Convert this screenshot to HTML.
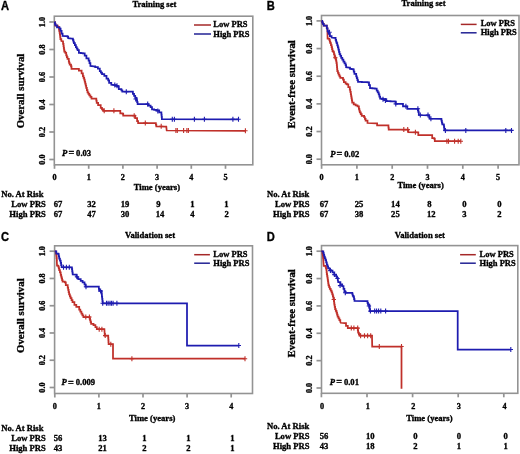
<!DOCTYPE html>
<html><head><meta charset="utf-8"><style>
html,body{margin:0;padding:0;background:#fff;}
svg{display:block;filter:blur(0.3px);}
text{stroke:#000;stroke-width:0.33px;fill:#000;}
</style></head><body>
<svg width="520" height="454" viewBox="0 0 520 454">
<rect width="520" height="454" fill="#fff"/>
<rect x="54.3" y="16.2" width="198.50" height="148.60" fill="none" stroke="#939393" stroke-width="1.6"/>
<line x1="49.3" y1="159.50" x2="54.3" y2="159.50" stroke="#939393" stroke-width="1.7"/>
<text x="44.50" y="159.50" text-anchor="middle" font-size="8.2" font-family='"Liberation Serif", serif' font-weight="bold" font-style="normal" transform="rotate(-90 44.50 159.50)">0.0</text>
<line x1="49.3" y1="132.00" x2="54.3" y2="132.00" stroke="#939393" stroke-width="1.7"/>
<text x="44.50" y="132.00" text-anchor="middle" font-size="8.2" font-family='"Liberation Serif", serif' font-weight="bold" font-style="normal" transform="rotate(-90 44.50 132.00)">0.2</text>
<line x1="49.3" y1="104.50" x2="54.3" y2="104.50" stroke="#939393" stroke-width="1.7"/>
<text x="44.50" y="104.50" text-anchor="middle" font-size="8.2" font-family='"Liberation Serif", serif' font-weight="bold" font-style="normal" transform="rotate(-90 44.50 104.50)">0.4</text>
<line x1="49.3" y1="77.00" x2="54.3" y2="77.00" stroke="#939393" stroke-width="1.7"/>
<text x="44.50" y="77.00" text-anchor="middle" font-size="8.2" font-family='"Liberation Serif", serif' font-weight="bold" font-style="normal" transform="rotate(-90 44.50 77.00)">0.6</text>
<line x1="49.3" y1="49.50" x2="54.3" y2="49.50" stroke="#939393" stroke-width="1.7"/>
<text x="44.50" y="49.50" text-anchor="middle" font-size="8.2" font-family='"Liberation Serif", serif' font-weight="bold" font-style="normal" transform="rotate(-90 44.50 49.50)">0.8</text>
<line x1="49.3" y1="22.00" x2="54.3" y2="22.00" stroke="#939393" stroke-width="1.7"/>
<text x="44.50" y="22.00" text-anchor="middle" font-size="8.2" font-family='"Liberation Serif", serif' font-weight="bold" font-style="normal" transform="rotate(-90 44.50 22.00)">1.0</text>
<line x1="54.50" y1="164.8" x2="54.50" y2="168.8" stroke="#939393" stroke-width="1.7"/>
<text x="54.50" y="180.00" text-anchor="middle" font-size="8.2" font-family='"Liberation Serif", serif' font-weight="bold" font-style="normal" >0</text>
<line x1="88.70" y1="164.8" x2="88.70" y2="168.8" stroke="#939393" stroke-width="1.7"/>
<text x="88.70" y="180.00" text-anchor="middle" font-size="8.2" font-family='"Liberation Serif", serif' font-weight="bold" font-style="normal" >1</text>
<line x1="122.90" y1="164.8" x2="122.90" y2="168.8" stroke="#939393" stroke-width="1.7"/>
<text x="122.90" y="180.00" text-anchor="middle" font-size="8.2" font-family='"Liberation Serif", serif' font-weight="bold" font-style="normal" >2</text>
<line x1="157.10" y1="164.8" x2="157.10" y2="168.8" stroke="#939393" stroke-width="1.7"/>
<text x="157.10" y="180.00" text-anchor="middle" font-size="8.2" font-family='"Liberation Serif", serif' font-weight="bold" font-style="normal" >3</text>
<line x1="191.30" y1="164.8" x2="191.30" y2="168.8" stroke="#939393" stroke-width="1.7"/>
<text x="191.30" y="180.00" text-anchor="middle" font-size="8.2" font-family='"Liberation Serif", serif' font-weight="bold" font-style="normal" >4</text>
<line x1="225.50" y1="164.8" x2="225.50" y2="168.8" stroke="#939393" stroke-width="1.7"/>
<text x="225.50" y="180.00" text-anchor="middle" font-size="8.2" font-family='"Liberation Serif", serif' font-weight="bold" font-style="normal" >5</text>
<text x="0.00" y="0.00" text-anchor="start" font-size="12.4" font-family='"Liberation Sans", sans-serif' font-weight="bold" font-style="normal" transform="translate(1.0 9.9) scale(0.9 1)">A</text>
<text x="154.40" y="6.80" text-anchor="middle" font-size="8.6" font-family='"Liberation Serif", serif' font-weight="bold" font-style="normal" >Training set</text>
<text x="24.30" y="128.30" text-anchor="start" font-size="10.8" font-family='"Liberation Serif", serif' font-weight="bold" font-style="normal" transform="rotate(-90 24.3 128.3)">Overall survival</text>
<line x1="194" y1="25" x2="211" y2="25" stroke="#a52828" stroke-width="1.5"/>
<line x1="194" y1="34" x2="211" y2="34" stroke="#222294" stroke-width="1.5"/>
<text x="213.30" y="26.90" text-anchor="start" font-size="8.5" font-family='"Liberation Serif", serif' font-weight="bold" font-style="normal" >Low PRS</text>
<text x="213.30" y="36.70" text-anchor="start" font-size="8.5" font-family='"Liberation Serif", serif' font-weight="bold" font-style="normal" >High PRS</text>
<text x="62.00" y="155.90" text-anchor="start" font-size="8.6" font-family='"Liberation Serif", serif' font-weight="bold" font-style="italic" >P</text>
<text x="71.30" y="156.20" text-anchor="middle" font-size="10.2" font-family='"Liberation Serif", serif' font-weight="bold" font-style="normal" >=</text>
<text x="76.10" y="155.90" text-anchor="start" font-size="8.6" font-family='"Liberation Serif", serif' font-weight="bold" font-style="normal" >0.03</text>
<text x="156.90" y="189.50" text-anchor="middle" font-size="8.6" font-family='"Liberation Serif", serif' font-weight="bold" font-style="normal" >Time (years)</text>
<text x="1.20" y="196.80" text-anchor="start" font-size="8.6" font-family='"Liberation Serif", serif' font-weight="bold" font-style="normal" >No. At Risk</text>
<text x="45.90" y="207.40" text-anchor="end" font-size="8.6" font-family='"Liberation Serif", serif' font-weight="bold" font-style="normal" >Low PRS</text>
<text x="45.90" y="217.20" text-anchor="end" font-size="8.6" font-family='"Liberation Serif", serif' font-weight="bold" font-style="normal" >High PRS</text>
<text x="58.00" y="207.40" text-anchor="middle" font-size="8.6" font-family='"Liberation Serif", serif' font-weight="bold" font-style="normal" >67</text>
<text x="91.60" y="207.40" text-anchor="middle" font-size="8.6" font-family='"Liberation Serif", serif' font-weight="bold" font-style="normal" >32</text>
<text x="125.00" y="207.40" text-anchor="middle" font-size="8.6" font-family='"Liberation Serif", serif' font-weight="bold" font-style="normal" >19</text>
<text x="158.30" y="207.40" text-anchor="middle" font-size="8.6" font-family='"Liberation Serif", serif' font-weight="bold" font-style="normal" >9</text>
<text x="192.50" y="207.40" text-anchor="middle" font-size="8.6" font-family='"Liberation Serif", serif' font-weight="bold" font-style="normal" >1</text>
<text x="226.30" y="207.40" text-anchor="middle" font-size="8.6" font-family='"Liberation Serif", serif' font-weight="bold" font-style="normal" >1</text>
<text x="58.00" y="217.20" text-anchor="middle" font-size="8.6" font-family='"Liberation Serif", serif' font-weight="bold" font-style="normal" >67</text>
<text x="91.60" y="217.20" text-anchor="middle" font-size="8.6" font-family='"Liberation Serif", serif' font-weight="bold" font-style="normal" >47</text>
<text x="125.00" y="217.20" text-anchor="middle" font-size="8.6" font-family='"Liberation Serif", serif' font-weight="bold" font-style="normal" >30</text>
<text x="160.00" y="217.20" text-anchor="middle" font-size="8.6" font-family='"Liberation Serif", serif' font-weight="bold" font-style="normal" >14</text>
<text x="192.50" y="217.20" text-anchor="middle" font-size="8.6" font-family='"Liberation Serif", serif' font-weight="bold" font-style="normal" >4</text>
<text x="226.70" y="217.20" text-anchor="middle" font-size="8.6" font-family='"Liberation Serif", serif' font-weight="bold" font-style="normal" >2</text>
<polyline points="54.50,22.00 55.00,22.00 55.00,23.75 55.50,23.75 55.50,25.50 57.70,25.50 57.70,26.80 59.00,26.80 59.00,28.60 59.00,29.50 59.30,29.50 59.30,31.23 59.60,31.23 59.60,32.97 59.90,32.97 59.90,34.70 60.15,34.70 60.15,36.90 60.40,36.90 60.40,39.10 61.30,39.10 61.30,40.90 62.60,41.30 63.05,41.30 63.05,43.75 63.50,43.75 63.50,46.20 63.77,46.20 63.77,47.97 64.03,47.97 64.03,49.73 64.30,49.73 64.30,51.50 65.30,51.50 65.30,52.80 66.20,52.80 66.20,55.30 66.85,55.30 66.85,57.05 67.50,57.05 67.50,58.80 68.80,58.80 68.80,61.50 69.25,61.50 69.25,63.00 69.70,63.00 69.70,64.50 71.00,64.50 71.00,66.30 71.50,66.30 71.50,68.90 77.60,68.90 78.90,68.90 78.90,70.70 81.60,70.70 81.60,73.30 82.90,73.30 82.90,76.00 83.55,76.00 83.55,77.75 84.20,77.75 84.20,79.50 84.70,79.50 84.70,81.50 85.20,81.50 85.20,83.50 85.70,83.50 85.70,85.70 86.20,85.70 86.20,87.90 86.85,87.90 86.85,90.10 87.50,90.10 87.50,92.30 88.40,92.30 88.40,93.85 89.30,93.85 89.30,95.40 90.40,95.40 90.40,96.95 91.50,96.95 91.50,98.50 95.90,98.50 96.30,98.50 96.30,100.70 96.70,100.70 96.70,102.90 98.10,102.90 98.10,105.10 100.70,105.10 100.70,107.80 102.00,107.80 102.00,109.30 103.30,109.30 103.30,110.80 118.80,110.80 120.30,110.80 120.30,113.30 122.70,113.30 122.70,113.80 123.20,113.80 123.20,115.70 134.20,115.70 135.20,115.70 135.20,118.10 137.10,118.10 137.10,121.00 138.10,121.00 138.10,123.10 155.40,123.10 155.85,123.10 155.85,124.70 156.30,124.70 156.30,126.30 166.30,126.60 166.70,130.50 245.40,130.80" fill="none" stroke="#c0302a" stroke-width="1.75" stroke-linejoin="miter"/>
<path d="M102.00 110.80H106.40M104.20 108.30V113.30" stroke="#c0302a" stroke-width="1.1"/>
<path d="M111.70 110.80H116.10M113.90 108.30V113.30" stroke="#c0302a" stroke-width="1.1"/>
<path d="M132.00 115.70H136.40M134.20 113.20V118.20" stroke="#c0302a" stroke-width="1.1"/>
<path d="M143.10 123.10H147.50M145.30 120.60V125.60" stroke="#c0302a" stroke-width="1.1"/>
<path d="M159.00 126.30H163.40M161.20 123.80V128.80" stroke="#c0302a" stroke-width="1.1"/>
<path d="M173.70 130.50H178.10M175.90 128.00V133.00" stroke="#c0302a" stroke-width="1.1"/>
<path d="M175.10 130.50H179.50M177.30 128.00V133.00" stroke="#c0302a" stroke-width="1.1"/>
<path d="M181.40 130.50H185.80M183.60 128.00V133.00" stroke="#c0302a" stroke-width="1.1"/>
<path d="M184.70 130.50H189.10M186.90 128.00V133.00" stroke="#c0302a" stroke-width="1.1"/>
<path d="M186.20 130.50H190.60M188.40 128.00V133.00" stroke="#c0302a" stroke-width="1.1"/>
<path d="M243.20 130.80H247.60M245.40 128.30V133.30" stroke="#c0302a" stroke-width="1.1"/>
<polyline points="54.50,22.00 54.90,22.00 54.90,23.65 55.30,23.65 55.30,25.30 57.00,25.30 57.00,27.30 59.60,27.30 59.60,28.60 60.60,28.60 60.60,30.90 61.60,30.90 61.60,33.60 62.60,33.60 62.60,36.00 65.30,36.20 67.60,36.20 67.60,36.90 68.20,36.90 68.20,38.20 71.90,38.50 72.90,38.50 72.90,39.90 73.40,39.90 73.40,41.55 73.90,41.55 73.90,43.20 74.90,43.20 74.90,45.15 75.90,45.15 75.90,47.10 76.75,47.10 76.75,48.65 77.60,48.65 77.60,50.20 78.90,50.20 78.90,52.80 80.85,52.80 80.85,53.05 82.80,53.05 82.80,53.30 84.70,53.30 84.70,55.70 86.40,55.70 86.40,58.40 88.60,58.40 88.60,60.60 89.50,60.60 89.50,63.20 90.40,63.20 90.40,65.90 93.90,66.30 95.20,66.30 95.20,67.20 97.90,67.20 97.90,68.50 99.80,68.50 99.80,71.00 100.90,71.00 100.90,72.55 102.00,72.55 102.00,74.10 104.30,74.10 104.30,75.90 106.50,75.90 106.50,78.50 108.20,78.50 108.20,80.30 109.10,80.30 109.10,82.90 111.30,82.90 111.30,84.70 114.40,85.10 115.95,85.10 115.95,85.75 117.50,85.75 117.50,86.40 118.80,86.40 118.80,89.10 121.40,89.10 121.40,90.40 122.30,90.40 122.30,91.70 131.60,91.70 132.90,91.70 132.90,93.90 134.05,93.90 134.05,95.90 135.20,95.90 135.20,97.90 136.60,97.90 136.60,100.30 137.10,100.30 137.10,102.20 137.60,102.20 137.60,104.10 146.70,104.10 148.20,104.10 148.20,105.60 150.60,105.60 150.60,107.00 152.00,107.00 152.00,109.40 154.15,109.40 154.15,109.90 156.30,109.90 156.30,110.40 159.20,110.40 159.20,112.30 161.40,112.30 161.40,114.60 161.65,114.60 161.65,116.90 161.90,116.90 161.90,119.20 238.50,119.30" fill="none" stroke="#1e1cb0" stroke-width="1.75" stroke-linejoin="miter"/>
<path d="M112.60 85.00H117.00M114.80 82.50V87.50" stroke="#1e1cb0" stroke-width="1.1"/>
<path d="M114.80 85.80H119.20M117.00 83.30V88.30" stroke="#1e1cb0" stroke-width="1.1"/>
<path d="M124.10 91.70H128.50M126.30 89.20V94.20" stroke="#1e1cb0" stroke-width="1.1"/>
<path d="M133.50 99.00H137.90M135.70 96.50V101.50" stroke="#1e1cb0" stroke-width="1.1"/>
<path d="M145.50 104.10H149.90M147.70 101.60V106.60" stroke="#1e1cb0" stroke-width="1.1"/>
<path d="M155.60 111.00H160.00M157.80 108.50V113.50" stroke="#1e1cb0" stroke-width="1.1"/>
<path d="M170.10 119.20H174.50M172.30 116.70V121.70" stroke="#1e1cb0" stroke-width="1.1"/>
<path d="M172.20 119.20H176.60M174.40 116.70V121.70" stroke="#1e1cb0" stroke-width="1.1"/>
<path d="M192.20 119.20H196.60M194.40 116.70V121.70" stroke="#1e1cb0" stroke-width="1.1"/>
<path d="M202.20 119.20H206.60M204.40 116.70V121.70" stroke="#1e1cb0" stroke-width="1.1"/>
<path d="M230.70 119.30H235.10M232.90 116.80V121.80" stroke="#1e1cb0" stroke-width="1.1"/>
<path d="M236.30 119.30H240.70M238.50 116.80V121.80" stroke="#1e1cb0" stroke-width="1.1"/>
<rect x="321.5" y="15.5" width="197.50" height="149.30" fill="none" stroke="#939393" stroke-width="1.6"/>
<line x1="316.5" y1="159.20" x2="321.5" y2="159.20" stroke="#939393" stroke-width="1.7"/>
<text x="311.70" y="159.20" text-anchor="middle" font-size="8.2" font-family='"Liberation Serif", serif' font-weight="bold" font-style="normal" transform="rotate(-90 311.70 159.20)">0.0</text>
<line x1="316.5" y1="131.54" x2="321.5" y2="131.54" stroke="#939393" stroke-width="1.7"/>
<text x="311.70" y="131.54" text-anchor="middle" font-size="8.2" font-family='"Liberation Serif", serif' font-weight="bold" font-style="normal" transform="rotate(-90 311.70 131.54)">0.2</text>
<line x1="316.5" y1="103.88" x2="321.5" y2="103.88" stroke="#939393" stroke-width="1.7"/>
<text x="311.70" y="103.88" text-anchor="middle" font-size="8.2" font-family='"Liberation Serif", serif' font-weight="bold" font-style="normal" transform="rotate(-90 311.70 103.88)">0.4</text>
<line x1="316.5" y1="76.22" x2="321.5" y2="76.22" stroke="#939393" stroke-width="1.7"/>
<text x="311.70" y="76.22" text-anchor="middle" font-size="8.2" font-family='"Liberation Serif", serif' font-weight="bold" font-style="normal" transform="rotate(-90 311.70 76.22)">0.6</text>
<line x1="316.5" y1="48.56" x2="321.5" y2="48.56" stroke="#939393" stroke-width="1.7"/>
<text x="311.70" y="48.56" text-anchor="middle" font-size="8.2" font-family='"Liberation Serif", serif' font-weight="bold" font-style="normal" transform="rotate(-90 311.70 48.56)">0.8</text>
<line x1="316.5" y1="20.90" x2="321.5" y2="20.90" stroke="#939393" stroke-width="1.7"/>
<text x="311.70" y="20.90" text-anchor="middle" font-size="8.2" font-family='"Liberation Serif", serif' font-weight="bold" font-style="normal" transform="rotate(-90 311.70 20.90)">1.0</text>
<line x1="321.60" y1="164.8" x2="321.60" y2="168.8" stroke="#939393" stroke-width="1.7"/>
<text x="321.60" y="180.00" text-anchor="middle" font-size="8.2" font-family='"Liberation Serif", serif' font-weight="bold" font-style="normal" >0</text>
<line x1="356.90" y1="164.8" x2="356.90" y2="168.8" stroke="#939393" stroke-width="1.7"/>
<text x="356.90" y="180.00" text-anchor="middle" font-size="8.2" font-family='"Liberation Serif", serif' font-weight="bold" font-style="normal" >1</text>
<line x1="392.20" y1="164.8" x2="392.20" y2="168.8" stroke="#939393" stroke-width="1.7"/>
<text x="392.20" y="180.00" text-anchor="middle" font-size="8.2" font-family='"Liberation Serif", serif' font-weight="bold" font-style="normal" >2</text>
<line x1="427.50" y1="164.8" x2="427.50" y2="168.8" stroke="#939393" stroke-width="1.7"/>
<text x="427.50" y="180.00" text-anchor="middle" font-size="8.2" font-family='"Liberation Serif", serif' font-weight="bold" font-style="normal" >3</text>
<line x1="462.80" y1="164.8" x2="462.80" y2="168.8" stroke="#939393" stroke-width="1.7"/>
<text x="462.80" y="180.00" text-anchor="middle" font-size="8.2" font-family='"Liberation Serif", serif' font-weight="bold" font-style="normal" >4</text>
<line x1="498.10" y1="164.8" x2="498.10" y2="168.8" stroke="#939393" stroke-width="1.7"/>
<text x="498.10" y="180.00" text-anchor="middle" font-size="8.2" font-family='"Liberation Serif", serif' font-weight="bold" font-style="normal" >5</text>
<text x="0.00" y="0.00" text-anchor="start" font-size="12.4" font-family='"Liberation Sans", sans-serif' font-weight="bold" font-style="normal" transform="translate(266.8 9.9) scale(0.9 1)">B</text>
<text x="423.50" y="6.00" text-anchor="middle" font-size="8.6" font-family='"Liberation Serif", serif' font-weight="bold" font-style="normal" >Training set</text>
<text x="294.60" y="128.40" text-anchor="start" font-size="10.8" font-family='"Liberation Serif", serif' font-weight="bold" font-style="normal" transform="rotate(-90 294.6 128.4)">Event-free survival</text>
<line x1="460.8" y1="24.4" x2="476.6" y2="24.4" stroke="#a52828" stroke-width="1.5"/>
<line x1="460.8" y1="32.8" x2="476.6" y2="32.8" stroke="#222294" stroke-width="1.5"/>
<text x="480.70" y="26.00" text-anchor="start" font-size="8.5" font-family='"Liberation Serif", serif' font-weight="bold" font-style="normal" >Low PRS</text>
<text x="480.70" y="35.20" text-anchor="start" font-size="8.5" font-family='"Liberation Serif", serif' font-weight="bold" font-style="normal" >High PRS</text>
<text x="330.20" y="156.60" text-anchor="start" font-size="8.6" font-family='"Liberation Serif", serif' font-weight="bold" font-style="italic" >P</text>
<text x="339.50" y="156.90" text-anchor="middle" font-size="10.2" font-family='"Liberation Serif", serif' font-weight="bold" font-style="normal" >=</text>
<text x="344.30" y="156.60" text-anchor="start" font-size="8.6" font-family='"Liberation Serif", serif' font-weight="bold" font-style="normal" >0.02</text>
<text x="420.60" y="188.30" text-anchor="middle" font-size="8.6" font-family='"Liberation Serif", serif' font-weight="bold" font-style="normal" >Time (years)</text>
<text x="267.00" y="196.50" text-anchor="start" font-size="8.6" font-family='"Liberation Serif", serif' font-weight="bold" font-style="normal" >No. At Risk</text>
<text x="309.60" y="206.90" text-anchor="end" font-size="8.6" font-family='"Liberation Serif", serif' font-weight="bold" font-style="normal" >Low PRS</text>
<text x="309.60" y="217.00" text-anchor="end" font-size="8.6" font-family='"Liberation Serif", serif' font-weight="bold" font-style="normal" >High PRS</text>
<text x="324.00" y="206.90" text-anchor="middle" font-size="8.6" font-family='"Liberation Serif", serif' font-weight="bold" font-style="normal" >67</text>
<text x="359.00" y="206.90" text-anchor="middle" font-size="8.6" font-family='"Liberation Serif", serif' font-weight="bold" font-style="normal" >25</text>
<text x="395.40" y="206.90" text-anchor="middle" font-size="8.6" font-family='"Liberation Serif", serif' font-weight="bold" font-style="normal" >14</text>
<text x="429.50" y="206.90" text-anchor="middle" font-size="8.6" font-family='"Liberation Serif", serif' font-weight="bold" font-style="normal" >8</text>
<text x="464.30" y="206.90" text-anchor="middle" font-size="8.6" font-family='"Liberation Serif", serif' font-weight="bold" font-style="normal" >0</text>
<text x="499.30" y="206.90" text-anchor="middle" font-size="8.6" font-family='"Liberation Serif", serif' font-weight="bold" font-style="normal" >0</text>
<text x="324.00" y="217.00" text-anchor="middle" font-size="8.6" font-family='"Liberation Serif", serif' font-weight="bold" font-style="normal" >67</text>
<text x="359.00" y="217.00" text-anchor="middle" font-size="8.6" font-family='"Liberation Serif", serif' font-weight="bold" font-style="normal" >38</text>
<text x="395.40" y="217.00" text-anchor="middle" font-size="8.6" font-family='"Liberation Serif", serif' font-weight="bold" font-style="normal" >25</text>
<text x="431.20" y="217.00" text-anchor="middle" font-size="8.6" font-family='"Liberation Serif", serif' font-weight="bold" font-style="normal" >12</text>
<text x="464.30" y="217.00" text-anchor="middle" font-size="8.6" font-family='"Liberation Serif", serif' font-weight="bold" font-style="normal" >3</text>
<text x="499.30" y="217.00" text-anchor="middle" font-size="8.6" font-family='"Liberation Serif", serif' font-weight="bold" font-style="normal" >2</text>
<polyline points="321.60,20.90 322.20,20.90 322.20,22.40 322.80,22.40 322.80,23.90 323.70,23.90 323.70,25.70 325.90,25.70 326.80,25.70 326.80,28.30 327.40,28.30 327.40,31.00 327.60,38.50 329.30,38.50 329.30,39.90 329.80,39.90 329.80,41.55 330.30,41.55 330.30,43.20 330.95,43.20 330.95,45.15 331.60,45.15 331.60,47.10 332.05,47.10 332.05,49.15 332.50,49.15 332.50,51.20 333.40,51.20 333.40,52.10 334.00,52.10 334.00,54.35 334.60,54.35 334.60,56.60 335.25,56.60 335.25,58.15 335.90,58.15 335.90,59.70 336.20,59.70 336.20,61.47 336.50,61.47 336.50,63.23 336.80,63.23 336.80,65.00 336.97,65.00 336.97,67.03 337.13,67.03 337.13,69.07 337.30,69.07 337.30,71.10 337.95,71.10 337.95,72.90 338.60,72.90 338.60,74.70 339.45,74.70 339.45,76.25 340.30,76.25 340.30,77.80 343.00,77.80 343.00,79.50 343.90,79.50 343.90,82.20 345.60,82.20 345.60,83.50 346.90,83.50 346.90,84.40 348.30,84.40 348.30,87.00 349.80,87.00 349.80,89.50 350.30,89.50 350.30,91.90 350.80,91.90 350.80,94.30 351.15,94.30 351.15,96.35 351.50,96.35 351.50,98.40 351.85,98.40 351.85,100.45 352.20,100.45 352.20,102.50 353.70,102.50 353.70,104.40 355.60,104.40 355.60,105.40 357.50,105.40 357.50,106.40 358.90,106.40 358.90,108.80 359.35,108.80 359.35,110.60 359.80,110.60 359.80,112.40 360.75,112.40 360.75,114.10 361.70,114.10 361.70,115.80 364.10,115.80 364.10,117.20 364.85,117.20 364.85,118.90 365.60,118.90 365.60,120.60 367.50,120.60 367.50,123.00 376.20,123.30 377.10,123.30 377.10,125.40 388.20,125.40 388.45,125.40 388.45,127.50 388.70,127.50 388.70,129.60 407.20,129.60 408.20,129.60 408.20,132.20 417.30,132.30 418.30,132.30 418.30,135.20 431.30,135.20 432.20,135.20 432.20,138.10 434.10,138.10 434.10,138.60 434.80,138.60 434.80,141.20 460.80,141.20" fill="none" stroke="#c0302a" stroke-width="1.75" stroke-linejoin="miter"/>
<path d="M333.10 57.80H337.50M335.30 55.30V60.30" stroke="#c0302a" stroke-width="1.1"/>
<path d="M401.60 129.60H406.00M403.80 127.10V132.10" stroke="#c0302a" stroke-width="1.1"/>
<path d="M405.50 129.60H409.90M407.70 127.10V132.10" stroke="#c0302a" stroke-width="1.1"/>
<path d="M413.20 132.20H417.60M415.40 129.70V134.70" stroke="#c0302a" stroke-width="1.1"/>
<path d="M444.70 141.20H449.10M446.90 138.70V143.70" stroke="#c0302a" stroke-width="1.1"/>
<path d="M446.30 141.20H450.70M448.50 138.70V143.70" stroke="#c0302a" stroke-width="1.1"/>
<path d="M452.40 141.20H456.80M454.60 138.70V143.70" stroke="#c0302a" stroke-width="1.1"/>
<path d="M456.00 141.20H460.40M458.20 138.70V143.70" stroke="#c0302a" stroke-width="1.1"/>
<path d="M458.60 141.20H463.00M460.80 138.70V143.70" stroke="#c0302a" stroke-width="1.1"/>
<polyline points="321.60,20.90 322.20,20.90 322.20,22.40 322.80,22.40 322.80,23.90 323.70,23.90 323.70,25.70 325.90,25.70 326.80,25.70 326.80,28.30 327.60,28.30 327.60,31.20 328.60,31.20 328.60,33.90 329.90,33.90 329.90,36.20 331.60,36.20 331.60,37.50 333.90,37.90 335.60,37.90 335.60,39.90 336.10,39.90 336.10,41.55 336.60,41.55 336.60,43.20 337.25,43.20 337.25,45.25 337.90,45.25 337.90,47.30 338.43,47.30 338.43,49.53 338.97,49.53 338.97,51.77 339.50,51.77 339.50,54.00 340.35,54.00 340.35,55.95 341.20,55.95 341.20,57.90 342.30,57.90 342.30,59.70 343.40,59.70 343.40,61.50 344.50,61.50 344.50,63.25 345.60,63.25 345.60,65.00 346.10,65.00 346.10,67.20 349.10,67.60 350.00,67.60 350.00,68.90 351.55,68.90 351.55,69.15 353.10,69.15 353.10,69.40 353.75,69.40 353.75,71.60 354.40,71.60 354.40,73.80 356.20,73.80 356.20,76.40 356.80,76.40 356.80,78.20 357.40,78.20 357.40,80.00 358.00,80.00 358.00,81.80 359.92,81.80 359.92,81.90 361.84,81.90 361.84,82.00 363.76,82.00 363.76,82.10 365.68,82.10 365.68,82.20 367.60,82.20 367.60,82.30 369.00,82.30 369.00,85.20 370.00,85.20 370.00,88.10 372.40,88.10 372.40,88.35 374.80,88.35 374.80,88.60 376.70,88.60 376.70,90.50 377.70,90.50 377.70,92.40 378.70,92.40 378.70,94.30 379.40,94.30 379.40,96.50 380.10,96.50 380.10,98.70 381.80,98.70 381.80,98.95 383.50,98.95 383.50,99.20 386.30,99.20 386.30,101.10 388.43,101.10 388.43,101.20 390.55,101.20 390.55,101.30 392.68,101.30 392.68,101.40 394.80,101.40 394.80,101.50 395.80,101.50 395.80,103.90 402.00,103.90 403.00,103.90 403.00,106.30 405.90,106.30 407.30,106.30 407.30,108.80 417.40,108.80 417.90,108.80 417.90,110.45 418.40,110.45 418.40,112.10 418.80,112.10 418.80,115.00 428.80,115.30 429.20,115.30 429.20,117.00 429.60,117.00 429.60,118.70 441.00,118.80 441.43,118.80 441.43,120.67 441.87,120.67 441.87,122.53 442.30,122.53 442.30,124.40 443.80,124.40 443.80,125.30 444.00,125.30 444.00,127.00 444.20,127.00 444.20,128.70 444.40,128.70 444.40,130.40 511.50,130.40" fill="none" stroke="#1e1cb0" stroke-width="1.75" stroke-linejoin="miter"/>
<path d="M327.30 32.30H331.70M329.50 29.80V34.80" stroke="#1e1cb0" stroke-width="1.1"/>
<path d="M380.80 99.20H385.20M383.00 96.70V101.70" stroke="#1e1cb0" stroke-width="1.1"/>
<path d="M383.20 100.50H387.60M385.40 98.00V103.00" stroke="#1e1cb0" stroke-width="1.1"/>
<path d="M393.60 103.90H398.00M395.80 101.40V106.40" stroke="#1e1cb0" stroke-width="1.1"/>
<path d="M403.70 106.30H408.10M405.90 103.80V108.80" stroke="#1e1cb0" stroke-width="1.1"/>
<path d="M415.70 108.80H420.10M417.90 106.30V111.30" stroke="#1e1cb0" stroke-width="1.1"/>
<path d="M418.10 115.00H422.50M420.30 112.50V117.50" stroke="#1e1cb0" stroke-width="1.1"/>
<path d="M425.80 115.00H430.20M428.00 112.50V117.50" stroke="#1e1cb0" stroke-width="1.1"/>
<path d="M428.70 118.70H433.10M430.90 116.20V121.20" stroke="#1e1cb0" stroke-width="1.1"/>
<path d="M443.20 130.40H447.60M445.40 127.90V132.90" stroke="#1e1cb0" stroke-width="1.1"/>
<path d="M463.60 130.40H468.00M465.80 127.90V132.90" stroke="#1e1cb0" stroke-width="1.1"/>
<path d="M503.60 130.40H508.00M505.80 127.90V132.90" stroke="#1e1cb0" stroke-width="1.1"/>
<path d="M509.30 130.40H513.70M511.50 127.90V132.90" stroke="#1e1cb0" stroke-width="1.1"/>
<rect x="54.6" y="245.8" width="197.90" height="147.70" fill="none" stroke="#939393" stroke-width="1.6"/>
<line x1="49.6" y1="387.50" x2="54.6" y2="387.50" stroke="#939393" stroke-width="1.7"/>
<text x="44.80" y="387.50" text-anchor="middle" font-size="8.2" font-family='"Liberation Serif", serif' font-weight="bold" font-style="normal" transform="rotate(-90 44.80 387.50)">0.0</text>
<line x1="49.6" y1="360.24" x2="54.6" y2="360.24" stroke="#939393" stroke-width="1.7"/>
<text x="44.80" y="360.24" text-anchor="middle" font-size="8.2" font-family='"Liberation Serif", serif' font-weight="bold" font-style="normal" transform="rotate(-90 44.80 360.24)">0.2</text>
<line x1="49.6" y1="332.98" x2="54.6" y2="332.98" stroke="#939393" stroke-width="1.7"/>
<text x="44.80" y="332.98" text-anchor="middle" font-size="8.2" font-family='"Liberation Serif", serif' font-weight="bold" font-style="normal" transform="rotate(-90 44.80 332.98)">0.4</text>
<line x1="49.6" y1="305.72" x2="54.6" y2="305.72" stroke="#939393" stroke-width="1.7"/>
<text x="44.80" y="305.72" text-anchor="middle" font-size="8.2" font-family='"Liberation Serif", serif' font-weight="bold" font-style="normal" transform="rotate(-90 44.80 305.72)">0.6</text>
<line x1="49.6" y1="278.46" x2="54.6" y2="278.46" stroke="#939393" stroke-width="1.7"/>
<text x="44.80" y="278.46" text-anchor="middle" font-size="8.2" font-family='"Liberation Serif", serif' font-weight="bold" font-style="normal" transform="rotate(-90 44.80 278.46)">0.8</text>
<line x1="49.6" y1="251.20" x2="54.6" y2="251.20" stroke="#939393" stroke-width="1.7"/>
<text x="44.80" y="251.20" text-anchor="middle" font-size="8.2" font-family='"Liberation Serif", serif' font-weight="bold" font-style="normal" transform="rotate(-90 44.80 251.20)">1.0</text>
<line x1="54.80" y1="393.5" x2="54.80" y2="397.5" stroke="#939393" stroke-width="1.7"/>
<text x="54.80" y="408.70" text-anchor="middle" font-size="8.2" font-family='"Liberation Serif", serif' font-weight="bold" font-style="normal" >0</text>
<line x1="98.90" y1="393.5" x2="98.90" y2="397.5" stroke="#939393" stroke-width="1.7"/>
<text x="98.90" y="408.70" text-anchor="middle" font-size="8.2" font-family='"Liberation Serif", serif' font-weight="bold" font-style="normal" >1</text>
<line x1="143.00" y1="393.5" x2="143.00" y2="397.5" stroke="#939393" stroke-width="1.7"/>
<text x="143.00" y="408.70" text-anchor="middle" font-size="8.2" font-family='"Liberation Serif", serif' font-weight="bold" font-style="normal" >2</text>
<line x1="187.10" y1="393.5" x2="187.10" y2="397.5" stroke="#939393" stroke-width="1.7"/>
<text x="187.10" y="408.70" text-anchor="middle" font-size="8.2" font-family='"Liberation Serif", serif' font-weight="bold" font-style="normal" >3</text>
<line x1="231.20" y1="393.5" x2="231.20" y2="397.5" stroke="#939393" stroke-width="1.7"/>
<text x="231.20" y="408.70" text-anchor="middle" font-size="8.2" font-family='"Liberation Serif", serif' font-weight="bold" font-style="normal" >4</text>
<text x="0.00" y="0.00" text-anchor="start" font-size="12.4" font-family='"Liberation Sans", sans-serif' font-weight="bold" font-style="normal" transform="translate(1.0 240.8) scale(0.9 1)">C</text>
<text x="150.00" y="238.10" text-anchor="middle" font-size="8.6" font-family='"Liberation Serif", serif' font-weight="bold" font-style="normal" >Validation set</text>
<text x="24.40" y="353.00" text-anchor="start" font-size="10.8" font-family='"Liberation Serif", serif' font-weight="bold" font-style="normal" transform="rotate(-90 24.4 353)">Overall survival</text>
<line x1="194.2" y1="254.7" x2="209.9" y2="254.7" stroke="#a52828" stroke-width="1.5"/>
<line x1="194.2" y1="263.2" x2="209.9" y2="263.2" stroke="#222294" stroke-width="1.5"/>
<text x="213.30" y="256.80" text-anchor="start" font-size="8.5" font-family='"Liberation Serif", serif' font-weight="bold" font-style="normal" >Low PRS</text>
<text x="213.30" y="266.30" text-anchor="start" font-size="8.5" font-family='"Liberation Serif", serif' font-weight="bold" font-style="normal" >High PRS</text>
<text x="61.60" y="385.30" text-anchor="start" font-size="8.6" font-family='"Liberation Serif", serif' font-weight="bold" font-style="italic" >P</text>
<text x="70.90" y="385.60" text-anchor="middle" font-size="10.2" font-family='"Liberation Serif", serif' font-weight="bold" font-style="normal" >=</text>
<text x="75.70" y="385.30" text-anchor="start" font-size="8.6" font-family='"Liberation Serif", serif' font-weight="bold" font-style="normal" >0.009</text>
<text x="152.20" y="421.20" text-anchor="middle" font-size="8.6" font-family='"Liberation Serif", serif' font-weight="bold" font-style="normal" >Time (years)</text>
<text x="1.20" y="430.80" text-anchor="start" font-size="8.6" font-family='"Liberation Serif", serif' font-weight="bold" font-style="normal" >No. At Risk</text>
<text x="45.80" y="441.20" text-anchor="end" font-size="8.6" font-family='"Liberation Serif", serif' font-weight="bold" font-style="normal" >Low PRS</text>
<text x="45.80" y="451.00" text-anchor="end" font-size="8.6" font-family='"Liberation Serif", serif' font-weight="bold" font-style="normal" >High PRS</text>
<text x="58.00" y="441.20" text-anchor="middle" font-size="8.6" font-family='"Liberation Serif", serif' font-weight="bold" font-style="normal" >56</text>
<text x="102.50" y="441.20" text-anchor="middle" font-size="8.6" font-family='"Liberation Serif", serif' font-weight="bold" font-style="normal" >13</text>
<text x="144.30" y="441.20" text-anchor="middle" font-size="8.6" font-family='"Liberation Serif", serif' font-weight="bold" font-style="normal" >1</text>
<text x="188.30" y="441.20" text-anchor="middle" font-size="8.6" font-family='"Liberation Serif", serif' font-weight="bold" font-style="normal" >1</text>
<text x="232.50" y="441.20" text-anchor="middle" font-size="8.6" font-family='"Liberation Serif", serif' font-weight="bold" font-style="normal" >1</text>
<text x="58.00" y="451.00" text-anchor="middle" font-size="8.6" font-family='"Liberation Serif", serif' font-weight="bold" font-style="normal" >43</text>
<text x="102.50" y="451.00" text-anchor="middle" font-size="8.6" font-family='"Liberation Serif", serif' font-weight="bold" font-style="normal" >21</text>
<text x="144.30" y="451.00" text-anchor="middle" font-size="8.6" font-family='"Liberation Serif", serif' font-weight="bold" font-style="normal" >2</text>
<text x="188.30" y="451.00" text-anchor="middle" font-size="8.6" font-family='"Liberation Serif", serif' font-weight="bold" font-style="normal" >2</text>
<text x="232.50" y="451.00" text-anchor="middle" font-size="8.6" font-family='"Liberation Serif", serif' font-weight="bold" font-style="normal" >1</text>
<polyline points="54.80,251.20 55.40,251.30 55.85,251.30 55.85,253.45 56.30,253.45 56.30,255.60 56.55,255.60 56.55,258.00 56.80,258.00 56.80,260.40 57.00,265.70 58.30,265.70 58.30,266.70 58.75,266.70 58.75,268.35 59.20,268.35 59.20,270.00 59.95,270.00 59.95,272.40 60.70,272.40 60.70,274.80 61.17,274.80 61.17,276.57 61.63,276.57 61.63,278.33 62.10,278.33 62.10,280.10 62.60,280.10 62.60,281.60 64.80,281.60 64.80,282.30 65.80,282.30 65.80,285.20 67.70,285.20 67.70,287.60 68.17,287.60 68.17,289.83 68.63,289.83 68.63,292.07 69.10,292.07 69.10,294.30 69.85,294.30 69.85,296.25 70.60,296.25 70.60,298.20 71.55,298.20 71.55,300.10 72.50,300.10 72.50,302.00 74.40,302.00 74.40,304.90 76.30,304.90 76.30,306.80 79.20,306.80 79.20,309.70 80.30,309.70 80.30,311.70 81.40,311.70 81.40,313.70 82.40,313.70 82.40,315.35 83.40,315.35 83.40,317.00 89.40,317.00 89.75,317.00 89.75,318.70 90.10,318.70 90.10,320.40 90.60,320.40 90.60,322.10 91.10,322.10 91.10,323.80 93.50,323.80 93.50,325.20 95.40,325.20 95.40,327.10 96.80,327.10 96.80,329.20 104.40,329.20 104.80,335.60 108.10,335.60 108.22,335.60 108.22,337.75 108.35,337.75 108.35,339.90 108.47,339.90 108.47,342.05 108.60,342.05 108.60,344.20 113.00,344.20 113.00,358.70 245.00,358.70" fill="none" stroke="#c0302a" stroke-width="1.75" stroke-linejoin="miter"/>
<path d="M83.60 317.00H88.00M85.80 314.50V319.50" stroke="#c0302a" stroke-width="1.1"/>
<path d="M87.20 317.00H91.60M89.40 314.50V319.50" stroke="#c0302a" stroke-width="1.1"/>
<path d="M97.00 329.20H101.40M99.20 326.70V331.70" stroke="#c0302a" stroke-width="1.1"/>
<path d="M99.70 329.20H104.10M101.90 326.70V331.70" stroke="#c0302a" stroke-width="1.1"/>
<path d="M103.00 335.60H107.40M105.20 333.10V338.10" stroke="#c0302a" stroke-width="1.1"/>
<path d="M108.60 344.20H113.00M110.80 341.70V346.70" stroke="#c0302a" stroke-width="1.1"/>
<path d="M129.70 358.70H134.10M131.90 356.20V361.20" stroke="#c0302a" stroke-width="1.1"/>
<path d="M242.80 358.70H247.20M245.00 356.20V361.20" stroke="#c0302a" stroke-width="1.1"/>
<polyline points="54.80,251.20 55.40,251.30 56.30,251.30 56.30,253.70 58.30,253.70 58.30,254.20 58.75,254.20 58.75,256.35 59.20,256.35 59.20,258.50 59.95,258.50 59.95,260.65 60.70,260.65 60.70,262.80 61.15,262.80 61.15,265.00 61.60,265.00 61.60,267.20 71.70,267.30 71.95,267.30 71.95,269.15 72.20,269.15 72.20,271.00 72.45,271.00 72.45,272.70 72.70,272.70 72.70,274.40 75.60,274.70 76.50,274.70 76.50,276.80 77.50,276.80 77.50,278.20 78.30,278.20 78.30,279.00 80.70,279.00 80.70,280.90 82.60,280.90 82.60,282.30 84.50,282.30 84.50,284.30 85.50,284.30 85.50,286.70 98.50,286.70 98.85,286.70 98.85,288.75 99.20,288.75 99.20,290.80 101.50,290.80 101.50,291.90 101.70,291.90 101.70,294.20 101.90,294.20 101.90,296.50 102.17,296.50 102.17,298.77 102.43,298.77 102.43,301.03 102.70,301.03 102.70,303.30 187.00,303.30 187.00,345.50 238.80,345.50" fill="none" stroke="#1e1cb0" stroke-width="1.75" stroke-linejoin="miter"/>
<path d="M61.30 267.20H65.70M63.50 264.70V269.70" stroke="#1e1cb0" stroke-width="1.1"/>
<path d="M64.20 267.20H68.60M66.40 264.70V269.70" stroke="#1e1cb0" stroke-width="1.1"/>
<path d="M67.10 267.20H71.50M69.30 264.70V269.70" stroke="#1e1cb0" stroke-width="1.1"/>
<path d="M74.80 276.80H79.20M77.00 274.30V279.30" stroke="#1e1cb0" stroke-width="1.1"/>
<path d="M83.80 286.70H88.20M86.00 284.20V289.20" stroke="#1e1cb0" stroke-width="1.1"/>
<path d="M98.40 291.00H102.80M100.60 288.50V293.50" stroke="#1e1cb0" stroke-width="1.1"/>
<path d="M100.50 303.30H104.90M102.70 300.80V305.80" stroke="#1e1cb0" stroke-width="1.1"/>
<path d="M104.30 303.30H108.70M106.50 300.80V305.80" stroke="#1e1cb0" stroke-width="1.1"/>
<path d="M105.90 303.30H110.30M108.10 300.80V305.80" stroke="#1e1cb0" stroke-width="1.1"/>
<path d="M107.80 303.30H112.20M110.00 300.80V305.80" stroke="#1e1cb0" stroke-width="1.1"/>
<path d="M109.30 303.30H113.70M111.50 300.80V305.80" stroke="#1e1cb0" stroke-width="1.1"/>
<path d="M110.90 303.30H115.30M113.10 300.80V305.80" stroke="#1e1cb0" stroke-width="1.1"/>
<path d="M114.70 303.30H119.10M116.90 300.80V305.80" stroke="#1e1cb0" stroke-width="1.1"/>
<path d="M236.60 345.50H241.00M238.80 343.00V348.00" stroke="#1e1cb0" stroke-width="1.1"/>
<rect x="321.5" y="245.6" width="196.30" height="147.70" fill="none" stroke="#939393" stroke-width="1.6"/>
<line x1="316.5" y1="388.00" x2="321.5" y2="388.00" stroke="#939393" stroke-width="1.7"/>
<text x="311.70" y="388.00" text-anchor="middle" font-size="8.2" font-family='"Liberation Serif", serif' font-weight="bold" font-style="normal" transform="rotate(-90 311.70 388.00)">0.0</text>
<line x1="316.5" y1="360.64" x2="321.5" y2="360.64" stroke="#939393" stroke-width="1.7"/>
<text x="311.70" y="360.64" text-anchor="middle" font-size="8.2" font-family='"Liberation Serif", serif' font-weight="bold" font-style="normal" transform="rotate(-90 311.70 360.64)">0.2</text>
<line x1="316.5" y1="333.28" x2="321.5" y2="333.28" stroke="#939393" stroke-width="1.7"/>
<text x="311.70" y="333.28" text-anchor="middle" font-size="8.2" font-family='"Liberation Serif", serif' font-weight="bold" font-style="normal" transform="rotate(-90 311.70 333.28)">0.4</text>
<line x1="316.5" y1="305.92" x2="321.5" y2="305.92" stroke="#939393" stroke-width="1.7"/>
<text x="311.70" y="305.92" text-anchor="middle" font-size="8.2" font-family='"Liberation Serif", serif' font-weight="bold" font-style="normal" transform="rotate(-90 311.70 305.92)">0.6</text>
<line x1="316.5" y1="278.56" x2="321.5" y2="278.56" stroke="#939393" stroke-width="1.7"/>
<text x="311.70" y="278.56" text-anchor="middle" font-size="8.2" font-family='"Liberation Serif", serif' font-weight="bold" font-style="normal" transform="rotate(-90 311.70 278.56)">0.8</text>
<line x1="316.5" y1="251.20" x2="321.5" y2="251.20" stroke="#939393" stroke-width="1.7"/>
<text x="311.70" y="251.20" text-anchor="middle" font-size="8.2" font-family='"Liberation Serif", serif' font-weight="bold" font-style="normal" transform="rotate(-90 311.70 251.20)">1.0</text>
<line x1="321.40" y1="393.3" x2="321.40" y2="397.3" stroke="#939393" stroke-width="1.7"/>
<text x="322.10" y="408.50" text-anchor="middle" font-size="8.2" font-family='"Liberation Serif", serif' font-weight="bold" font-style="normal" >0</text>
<line x1="367.00" y1="393.3" x2="367.00" y2="397.3" stroke="#939393" stroke-width="1.7"/>
<text x="367.70" y="408.50" text-anchor="middle" font-size="8.2" font-family='"Liberation Serif", serif' font-weight="bold" font-style="normal" >1</text>
<line x1="412.60" y1="393.3" x2="412.60" y2="397.3" stroke="#939393" stroke-width="1.7"/>
<text x="413.30" y="408.50" text-anchor="middle" font-size="8.2" font-family='"Liberation Serif", serif' font-weight="bold" font-style="normal" >2</text>
<line x1="458.20" y1="393.3" x2="458.20" y2="397.3" stroke="#939393" stroke-width="1.7"/>
<text x="458.90" y="408.50" text-anchor="middle" font-size="8.2" font-family='"Liberation Serif", serif' font-weight="bold" font-style="normal" >3</text>
<line x1="503.80" y1="393.3" x2="503.80" y2="397.3" stroke="#939393" stroke-width="1.7"/>
<text x="504.50" y="408.50" text-anchor="middle" font-size="8.2" font-family='"Liberation Serif", serif' font-weight="bold" font-style="normal" >4</text>
<text x="0.00" y="0.00" text-anchor="start" font-size="12.4" font-family='"Liberation Sans", sans-serif' font-weight="bold" font-style="normal" transform="translate(266.8 240.8) scale(0.9 1)">D</text>
<text x="419.80" y="238.40" text-anchor="middle" font-size="8.6" font-family='"Liberation Serif", serif' font-weight="bold" font-style="normal" >Validation set</text>
<text x="295.30" y="357.40" text-anchor="start" font-size="10.8" font-family='"Liberation Serif", serif' font-weight="bold" font-style="normal" transform="rotate(-90 295.3 357.4)">Event-free survival</text>
<line x1="460.1" y1="254.7" x2="475.8" y2="254.7" stroke="#a52828" stroke-width="1.5"/>
<line x1="460.1" y1="263.2" x2="475.8" y2="263.2" stroke="#222294" stroke-width="1.5"/>
<text x="479.60" y="256.80" text-anchor="start" font-size="8.5" font-family='"Liberation Serif", serif' font-weight="bold" font-style="normal" >Low PRS</text>
<text x="479.60" y="266.30" text-anchor="start" font-size="8.5" font-family='"Liberation Serif", serif' font-weight="bold" font-style="normal" >High PRS</text>
<text x="329.80" y="384.60" text-anchor="start" font-size="8.6" font-family='"Liberation Serif", serif' font-weight="bold" font-style="italic" >P</text>
<text x="339.10" y="384.90" text-anchor="middle" font-size="10.2" font-family='"Liberation Serif", serif' font-weight="bold" font-style="normal" >=</text>
<text x="343.90" y="384.60" text-anchor="start" font-size="8.6" font-family='"Liberation Serif", serif' font-weight="bold" font-style="normal" >0.01</text>
<text x="429.40" y="421.00" text-anchor="middle" font-size="8.6" font-family='"Liberation Serif", serif' font-weight="bold" font-style="normal" >Time (years)</text>
<text x="267.00" y="428.70" text-anchor="start" font-size="8.6" font-family='"Liberation Serif", serif' font-weight="bold" font-style="normal" >No. At Risk</text>
<text x="309.50" y="439.10" text-anchor="end" font-size="8.6" font-family='"Liberation Serif", serif' font-weight="bold" font-style="normal" >Low PRS</text>
<text x="309.50" y="448.90" text-anchor="end" font-size="8.6" font-family='"Liberation Serif", serif' font-weight="bold" font-style="normal" >High PRS</text>
<text x="324.00" y="439.10" text-anchor="middle" font-size="8.6" font-family='"Liberation Serif", serif' font-weight="bold" font-style="normal" >56</text>
<text x="370.20" y="439.10" text-anchor="middle" font-size="8.6" font-family='"Liberation Serif", serif' font-weight="bold" font-style="normal" >10</text>
<text x="415.30" y="439.10" text-anchor="middle" font-size="8.6" font-family='"Liberation Serif", serif' font-weight="bold" font-style="normal" >0</text>
<text x="459.00" y="439.10" text-anchor="middle" font-size="8.6" font-family='"Liberation Serif", serif' font-weight="bold" font-style="normal" >0</text>
<text x="505.60" y="439.10" text-anchor="middle" font-size="8.6" font-family='"Liberation Serif", serif' font-weight="bold" font-style="normal" >0</text>
<text x="324.00" y="448.90" text-anchor="middle" font-size="8.6" font-family='"Liberation Serif", serif' font-weight="bold" font-style="normal" >43</text>
<text x="370.20" y="448.90" text-anchor="middle" font-size="8.6" font-family='"Liberation Serif", serif' font-weight="bold" font-style="normal" >18</text>
<text x="415.30" y="448.90" text-anchor="middle" font-size="8.6" font-family='"Liberation Serif", serif' font-weight="bold" font-style="normal" >2</text>
<text x="459.00" y="448.90" text-anchor="middle" font-size="8.6" font-family='"Liberation Serif", serif' font-weight="bold" font-style="normal" >1</text>
<text x="505.60" y="448.90" text-anchor="middle" font-size="8.6" font-family='"Liberation Serif", serif' font-weight="bold" font-style="normal" >1</text>
<polyline points="321.40,251.20 322.00,251.30 322.40,251.30 322.40,253.50 322.80,253.50 322.80,255.70 323.05,255.70 323.05,257.90 323.30,257.90 323.30,260.10 323.70,265.80 325.50,265.80 325.50,266.70 325.95,266.70 325.95,268.25 326.40,268.25 326.40,269.80 326.60,269.80 326.60,272.00 326.80,272.00 326.80,274.20 327.10,274.20 327.10,275.97 327.40,275.97 327.40,277.73 327.70,277.73 327.70,279.50 327.97,279.50 327.97,281.43 328.23,281.43 328.23,283.37 328.50,283.37 328.50,285.30 329.15,285.30 329.15,287.05 329.80,287.05 329.80,288.80 330.70,288.80 330.70,290.55 331.60,290.55 331.60,292.30 332.25,292.30 332.25,294.30 332.90,294.30 332.90,296.30 333.35,296.30 333.35,297.85 333.80,297.85 333.80,299.40 333.97,299.40 333.97,301.17 334.13,301.17 334.13,302.93 334.30,302.93 334.30,304.70 334.70,304.70 334.70,306.90 335.10,306.90 335.10,309.10 335.80,309.10 335.80,310.85 336.50,310.85 336.50,312.60 337.05,312.60 337.05,314.60 337.60,314.60 337.60,316.60 338.50,316.60 338.50,318.37 339.40,318.37 339.40,320.13 340.30,320.13 340.30,321.90 340.70,322.80 344.70,323.20 346.00,323.20 346.00,325.90 347.80,325.90 347.80,328.10 357.50,328.10 357.80,328.10 357.80,330.30 358.10,330.30 358.10,332.50 358.90,332.50 358.90,334.10 359.70,334.10 359.70,335.70 372.00,335.70 372.20,346.50 401.50,346.50 401.50,388.70" fill="none" stroke="#c0302a" stroke-width="1.75" stroke-linejoin="miter"/>
<path d="M331.60 299.50H336.00M333.80 297.00V302.00" stroke="#c0302a" stroke-width="1.1"/>
<path d="M349.10 328.10H353.50M351.30 325.60V330.60" stroke="#c0302a" stroke-width="1.1"/>
<path d="M351.70 328.10H356.10M353.90 325.60V330.60" stroke="#c0302a" stroke-width="1.1"/>
<path d="M355.50 328.10H359.90M357.70 325.60V330.60" stroke="#c0302a" stroke-width="1.1"/>
<path d="M358.40 335.70H362.80M360.60 333.20V338.20" stroke="#c0302a" stroke-width="1.1"/>
<path d="M362.30 335.70H366.70M364.50 333.20V338.20" stroke="#c0302a" stroke-width="1.1"/>
<path d="M365.40 335.70H369.80M367.60 333.20V338.20" stroke="#c0302a" stroke-width="1.1"/>
<path d="M368.50 335.70H372.90M370.70 333.20V338.20" stroke="#c0302a" stroke-width="1.1"/>
<path d="M377.10 346.50H381.50M379.30 344.00V349.00" stroke="#c0302a" stroke-width="1.1"/>
<path d="M399.30 346.50H403.70M401.50 344.00V349.00" stroke="#c0302a" stroke-width="1.1"/>
<polyline points="321.40,251.20 322.00,251.30 323.30,251.30 323.30,253.00 323.75,253.00 323.75,254.80 324.20,254.80 324.20,256.60 324.85,256.60 324.85,258.35 325.50,258.35 325.50,260.10 326.15,260.10 326.15,262.30 326.80,262.30 326.80,264.50 327.45,264.50 327.45,266.25 328.10,266.25 328.10,268.00 329.50,268.00 329.50,270.20 331.20,270.20 331.20,270.70 332.50,270.70 332.50,272.40 334.30,272.40 334.30,274.60 336.10,274.60 336.10,276.40 336.95,276.40 336.95,277.95 337.80,277.95 337.80,279.50 338.20,282.20 340.40,282.20 340.40,284.40 342.20,284.40 342.20,286.20 343.50,286.20 343.50,288.80 344.40,288.80 344.40,291.50 345.70,291.50 345.70,292.80 351.90,292.80 352.35,292.80 352.35,294.35 352.80,294.35 352.80,295.90 353.60,295.90 353.60,297.20 354.05,297.20 354.05,299.05 354.50,299.05 354.50,300.90 367.00,301.20 367.50,301.20 367.50,302.95 368.00,302.95 368.00,304.70 369.40,304.70 369.40,306.20 369.65,306.20 369.65,308.65 369.90,308.65 369.90,311.10 457.70,311.10 457.70,349.50 510.80,349.50" fill="none" stroke="#1e1cb0" stroke-width="1.75" stroke-linejoin="miter"/>
<path d="M328.20 270.60H332.60M330.40 268.10V273.10" stroke="#1e1cb0" stroke-width="1.1"/>
<path d="M332.20 274.60H336.60M334.40 272.10V277.10" stroke="#1e1cb0" stroke-width="1.1"/>
<path d="M335.30 278.50H339.70M337.50 276.00V281.00" stroke="#1e1cb0" stroke-width="1.1"/>
<path d="M337.90 285.60H342.30M340.10 283.10V288.10" stroke="#1e1cb0" stroke-width="1.1"/>
<path d="M343.10 292.80H347.50M345.30 290.30V295.30" stroke="#1e1cb0" stroke-width="1.1"/>
<path d="M366.70 306.00H371.10M368.90 303.50V308.50" stroke="#1e1cb0" stroke-width="1.1"/>
<path d="M368.20 311.10H372.60M370.40 308.60V313.60" stroke="#1e1cb0" stroke-width="1.1"/>
<path d="M372.50 311.10H376.90M374.70 308.60V313.60" stroke="#1e1cb0" stroke-width="1.1"/>
<path d="M374.40 311.10H378.80M376.60 308.60V313.60" stroke="#1e1cb0" stroke-width="1.1"/>
<path d="M376.40 311.10H380.80M378.60 308.60V313.60" stroke="#1e1cb0" stroke-width="1.1"/>
<path d="M378.60 311.10H383.00M380.80 308.60V313.60" stroke="#1e1cb0" stroke-width="1.1"/>
<path d="M383.40 311.10H387.80M385.60 308.60V313.60" stroke="#1e1cb0" stroke-width="1.1"/>
<path d="M508.60 349.50H513.00M510.80 347.00V352.00" stroke="#1e1cb0" stroke-width="1.1"/>
</svg>
</body></html>
